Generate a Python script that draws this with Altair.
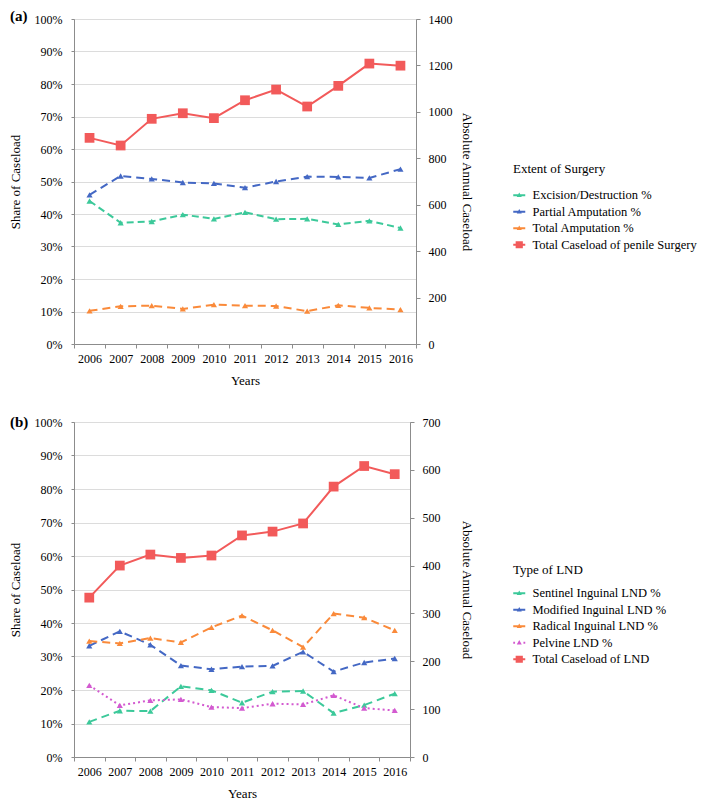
import altair as alt
import pandas as pd

years = [str(y) for y in range(2006, 2017)]

# Panel (a): Extent of Surgery
a_names = ["Excision/Destruction %", "Partial Amputation %", "Total Amputation %"]
a_excision = [44.0, 37.3, 37.7, 39.8, 38.5, 40.5, 38.4, 38.5, 36.8, 37.9, 35.7]
a_partial = [45.9, 51.7, 50.8, 49.7, 49.4, 48.1, 50.0, 51.5, 51.4, 51.1, 53.8]
a_total_amp = [10.2, 11.6, 11.8, 10.8, 12.1, 11.8, 11.7, 10.1, 11.9, 11.1, 10.6]
a_total_name = "Total Caseload of penile Surgery"
a_caseload = [888, 855, 970, 994, 973, 1050, 1096, 1023, 1112, 1208, 1199]

# Panel (b): Type of LND
b_names = ["Sentinel Inguinal LND %", "Modified Inguinal LND %",
           "Radical Inguinal LND %", "Pelvine LND %"]
b_sentinel = [10.5, 13.8, 13.7, 21.1, 19.9, 16.2, 19.5, 19.7, 13.1, 15.5, 18.9]
b_modified = [33.2, 37.5, 33.5, 27.3, 26.2, 27.0, 27.2, 31.4, 25.5, 28.2, 29.4]
b_radical = [34.6, 33.9, 35.5, 34.2, 38.7, 42.2, 37.8, 32.8, 42.8, 41.6, 37.8]
b_pelvine = [21.4, 15.4, 16.9, 17.2, 14.9, 14.6, 15.9, 15.7, 18.4, 14.6, 13.9]
b_total_name = "Total Caseload of LND"
b_caseload = [333, 400, 423, 416, 421, 463, 471, 488, 565, 608, 591]

GREEN = "#3cc99a"
BLUE = "#4468c4"
ORANGE = "#fa8a3a"
MAGENTA = "#d35ad0"
RED = "#f25a5a"

FONT = "Liberation Serif"

LINE = "M-1,-0.17H1V0.17H-1Z"
TRI = "M0,-0.45L0.42,0.3L-0.42,0.3Z"
SQ = "M-0.6,-0.6H0.6V0.6H-0.6Z"
DOTS = "M-1,-0.15H-0.7V0.15H-1ZM0.7,-0.15H1V0.15H0.7Z"
SYM_LINE_TRI = LINE + TRI
SYM_DOT_TRI = DOTS + TRI
SYM_LINE_SQ = LINE + SQ


def panel(label, label_y, names, values, colors, dashes, symbols,
          total_name, total_vals, right_max, right_step, legend_title,
          width, height, leg_x, leg_y, leg_title_pad, right_title_pad,
          x_title_pad):
    rows = []
    for name, vals in zip(names, values):
        for yr, v in zip(years, vals):
            rows.append({"year": yr, "series": name, "share": v / 100.0})
    pct = pd.DataFrame(rows)
    tot = pd.DataFrame({"year": years, "series": total_name, "count": total_vals})
    domain = names + [total_name]
    crange = colors + [RED]
    srange = symbols + [SYM_LINE_SQ]

    xenc = alt.X(
        "year:O",
        sort=years,
        scale=alt.Scale(type="band", paddingInner=0, paddingOuter=0),
        axis=alt.Axis(title="Years", tickBand="extent", labelAngle=0,
                      tickSize=4, labelPadding=5, titlePadding=x_title_pad),
    )
    color_scale = alt.Scale(domain=domain, range=crange)

    yleft = alt.Y(
        "share:Q",
        scale=alt.Scale(domain=[0, 1], nice=False),
        axis=alt.Axis(title="Share of Caseload", format=".0%",
                      values=[i / 10 for i in range(11)], grid=True,
                      gridColor="#dcdcdc", tickSize=3, labelPadding=9,
                      titlePadding=12),
    )
    lines = alt.Chart(pct).mark_line(strokeWidth=2).encode(
        x=xenc,
        y=yleft,
        color=alt.Color("series:N", scale=color_scale),
        strokeDash=alt.StrokeDash("series:N",
                                  scale=alt.Scale(domain=names, range=dashes),
                                  legend=None),
        detail="series:N",
    )
    pts = alt.Chart(pct).mark_point(shape="triangle-up", filled=True, size=38,
                                    opacity=1).encode(
        x=xenc,
        y=yleft,
        color=alt.Color("series:N", scale=color_scale),
    )
    legend_df = pd.DataFrame({"series": domain})
    leg_spec = dict(title=legend_title, orient="none", legendX=leg_x,
                    legendY=leg_y, titlePadding=leg_title_pad)
    leg = alt.Chart(legend_df).mark_point(filled=True, opacity=1).encode(
        color=alt.Color("series:N", scale=color_scale,
                        legend=alt.Legend(**leg_spec)),
        shape=alt.Shape("series:N", scale=alt.Scale(domain=domain, range=srange),
                        legend=alt.Legend(**leg_spec)),
    ).transform_filter("false")

    tag = alt.Chart(pd.DataFrame({"t": [label]})).mark_text(
        align="left", baseline="middle", font=FONT, fontSize=15,
        fontWeight="bold", color="black"
    ).encode(text="t:N", x=alt.value(-64), y=alt.value(label_y))

    left = alt.layer(lines, pts, leg, tag)

    yright = alt.Y(
        "count:Q",
        scale=alt.Scale(domain=[0, right_max], nice=False),
        axis=alt.Axis(title="Absolute Annual Caseload", orient="right",
                      format="d",
                      values=list(range(0, right_max + 1, right_step)),
                      grid=False, tickSize=4, labelPadding=8,
                      titlePadding=right_title_pad),
    )
    red_line = alt.Chart(tot).mark_line(strokeWidth=2).encode(
        x=xenc, y=yright,
        color=alt.Color("series:N", scale=color_scale),
    )
    red_pts = alt.Chart(tot).mark_point(shape="square", filled=True, size=95,
                                        opacity=1).encode(
        x=xenc, y=yright,
        color=alt.Color("series:N", scale=color_scale),
    )
    right = alt.layer(red_line, red_pts)

    return alt.layer(left, right).resolve_scale(y="independent").properties(
        width=width, height=height)


panel_a = panel("(a)", -3, a_names, [a_excision, a_partial, a_total_amp],
                [GREEN, BLUE, ORANGE], [[7, 4], [8, 5], [8, 5]],
                [SYM_LINE_TRI, SYM_LINE_TRI, SYM_LINE_TRI],
                a_total_name, a_caseload, 1400, 200, "Extent of Surgery",
                342, 325, 439, 144, 13, 7, 10)

panel_b = panel("(b)", 0, b_names, [b_sentinel, b_modified, b_radical, b_pelvine],
                [GREEN, BLUE, ORANGE, MAGENTA], [[8, 5], [8, 5], [8, 5], [2, 3]],
                [SYM_LINE_TRI, SYM_LINE_TRI, SYM_LINE_TRI, SYM_DOT_TRI],
                b_total_name, b_caseload, 700, 100, "Type of LND",
                336, 335, 439, 142, 10, 19, 10)

chart = alt.vconcat(panel_a, panel_b, spacing=26).resolve_scale(
    color="independent", shape="independent", strokeDash="independent"
).resolve_legend(color="independent", shape="independent").properties(
    padding={"left": 0, "top": 0, "right": 0, "bottom": 0}
).configure(
    font=FONT,
).configure_axis(
    labelFont=FONT, titleFont=FONT, labelFontSize=12, titleFontSize=13,
    labelColor="black", titleColor="black", titleFontWeight="normal",
    domainColor="#8c8c8c", tickColor="#8c8c8c",
).configure_legend(
    titleFont=FONT, labelFont=FONT, titleFontSize=13, labelFontSize=12.5,
    titleFontWeight="normal", titleColor="black", labelColor="black",
    symbolSize=144, symbolStrokeWidth=0, rowPadding=3.5, labelOffset=7,
    padding=0, labelLimit=400,
).configure_view(
    stroke="#a6a6a6", strokeWidth=1,
)

chart.save("out.html", embed_options={"renderer": "svg", "actions": False})
